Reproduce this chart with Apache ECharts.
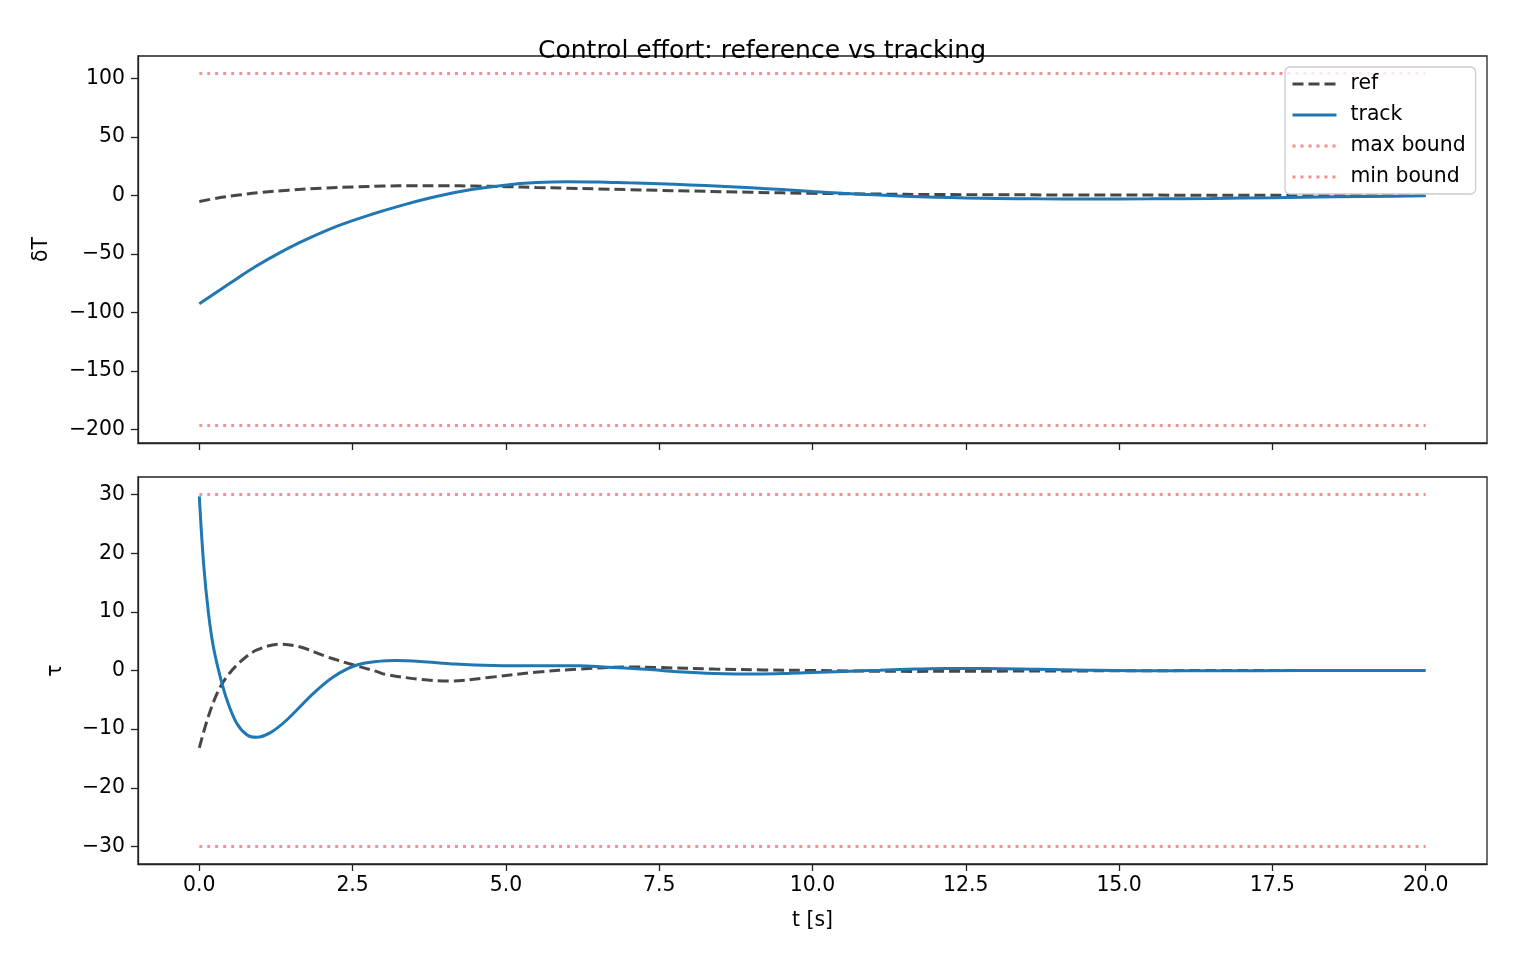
<!DOCTYPE html>
<html>
<head>
<meta charset="utf-8">
<script src="https://cdn.jsdelivr.net/npm/echarts@6/dist/echarts.min.js"></script>
<style>
html,body{margin:0;padding:0;background:#fff;}
#chart{width:1524px;height:965px;}
</style>
</head>
<body>
<div id="chart"></div>
<script>
// ---- data ----
var xTicks = [0, 2.5, 5, 7.5, 10, 12.5, 15, 17.5, 20];
var yTicksTop = [-200, -150, -100, -50, 0, 50, 100];
var yTicksBottom = [-30, -20, -10, 0, 10, 20, 30];

var tRefTop = [0, 0.3, 0.64, 1.0, 1.45, 2.0, 2.5, 3.0, 3.5, 4.0, 4.5, 5.0, 5.5, 6.0, 6.5, 7.0, 7.5, 8.0, 9.0, 10.0, 11.0, 12.0, 13.0, 14.0, 15.0, 16.0, 17.0, 18.0, 19.0, 20.0];
var refTop  = [-5.1, -2.2, 0.3, 2.5, 4.5, 6.2, 7.3, 8.0, 8.3, 8.3, 8.0, 7.5, 6.8, 6.2, 5.6, 5.0, 4.4, 3.8, 2.7, 1.8, 1.2, 0.8, 0.6, 0.45, 0.35, 0.25, 0.2, 0.15, 0.1, 0.1];

var tTrackTop = [0, 0.36, 0.6, 0.91, 1.3, 1.72, 2.27, 2.8, 3.36, 3.9, 4.44, 4.98, 5.5, 6.0, 6.5, 7.0, 7.5, 8.0, 8.5, 9.0, 9.5, 10.0, 10.5, 11.0, 11.5, 12.0, 12.5, 13.0, 13.7, 14.5, 15.5, 16.5, 17.5, 18.5, 19.5, 20.0];
var trackTop  = [-92.6, -80.0, -71.6, -61.0, -49.3, -38.2, -25.8, -16.3, -7.6, -0.5, 5, 8.8, 11, 11.8, 11.6, 10.8, 10, 9.0, 7.9, 6.6, 5.0, 3.3, 1.8, 0.5, -0.6, -1.5, -2.1, -2.5, -2.9, -3.0, -2.9, -2.5, -1.9, -1.2, -0.6, -0.3];

var tRefBottom = [0, 0.13, 0.29, 0.45, 0.67, 0.94, 1.32, 1.65, 2.08, 2.52, 2.9, 3.03, 3.63, 4.06, 4.71, 5.53, 6.2, 7.0, 7.5, 8.4, 9.2, 10.0, 11.6, 13.3, 15.0, 17.0, 20.0];
var refBottom  = [-13.2, -8.4, -3.9, -1.05, 1.5, 3.5, 4.5, 4.0, 2.35, 0.93, -0.2, -0.65, -1.55, -1.8, -1.2, -0.25, 0.25, 0.6, 0.5, 0.25, 0.1, 0, -0.15, -0.1, -0.05, 0, 0];

var tTrackBottom = [0, 0.07, 0.15, 0.23, 0.34, 0.45, 0.61, 0.78, 0.93, 1.16, 1.43, 1.86, 2.19, 2.57, 2.95, 3.2, 3.6, 4.17, 4.8, 5.5, 6.2, 6.6, 7.3, 7.8, 8.4, 9.1, 9.6, 10.0, 10.5, 11.1, 11.7, 12.2, 12.8, 13.7, 14.5, 15.5, 16.5, 18.0, 20.0];
var trackBottom  = [29.7, 18.2, 9.7, 4.0, -1.05, -5.0, -9.0, -11.0, -11.4, -10.6, -8.4, -3.9, -1.05, 0.93, 1.6, 1.7, 1.55, 1.1, 0.85, 0.8, 0.8, 0.6, 0.2, -0.2, -0.5, -0.6, -0.5, -0.35, -0.15, 0.05, 0.25, 0.35, 0.35, 0.2, 0.05, -0.05, -0.05, 0, 0];

var boundT = [0, 20];
var maxBoundTop = 104.2, minBoundTop = -196.6;
var maxBoundBottom = 30, minBoundBottom = -30;

// ---- build ----
function pairs(t, v) { return t.map(function (x, i) { return [x, v[i]]; }); }
function flat(t, c) { return t.map(function (x) { return [x, c]; }); }
function fmtY(v) { return String(v).replace('-', '\u2212'); }

var FONT = 'DejaVu Sans';
var FS = 20.4;
var refColor = '#474747', trackColor = '#1f77b4', boundColor = '#f49090';

function xAxis(gridIndex, showLabels) {
  return {
    type: 'value', gridIndex: gridIndex, min: -1, max: 21,
    splitLine: { show: false },
    axisLine: { onZero: false, lineStyle: { color: '#222', width: 1.3 } },
    axisTick: { show: true, length: 7, customValues: xTicks, lineStyle: { color: '#222', width: 1.3 } },
    axisLabel: { show: showLabels, customValues: xTicks, color: '#000', fontSize: FS, fontFamily: FONT, margin: 12,
      formatter: function (v) { return v.toFixed(1); } },
    name: showLabels ? 't [s]' : '', nameLocation: 'middle', nameGap: 47,
    nameTextStyle: { color: '#000', fontSize: FS, fontFamily: FONT }
  };
}
function yAxis(gridIndex, min, max, ticks, name, gap) {
  return {
    type: 'value', gridIndex: gridIndex, min: min, max: max,
    splitLine: { show: false },
    axisLine: { show: true, onZero: false, lineStyle: { color: '#222', width: 1.3 } },
    axisTick: { show: true, length: 7, customValues: ticks, lineStyle: { color: '#222', width: 1.3 } },
    axisLabel: { customValues: ticks, color: '#000', fontSize: FS, fontFamily: FONT, margin: 13, formatter: fmtY },
    name: name, nameLocation: 'middle', nameGap: gap, nameRotate: 90,
    nameTextStyle: { color: '#000', fontSize: FS, fontFamily: FONT }
  };
}
function line(name, xi, data, color, type, width) {
  return {
    name: name, type: 'line', xAxisIndex: xi, yAxisIndex: xi, data: data,
    symbol: 'none', showSymbol: false, smooth: 0.35, z: type === 'solid' || Array.isArray(type) && type[0] > 5 ? 2 : 1,
    lineStyle: { color: color, type: type, width: width, cap: 'butt' },
    itemStyle: { color: color }, animation: false
  };
}

var chart = echarts.init(document.getElementById('chart'), null, { renderer: 'canvas' });
chart.setOption({
  backgroundColor: '#fff',
  animation: false,
  title: { text: 'Control effort: reference vs tracking', left: 'center', top: 34,
    textStyle: { fontSize: 25, fontWeight: 'normal', color: '#000', fontFamily: FONT } },
  legend: {
    orient: 'vertical', left: 1285, top: 67, z: 10,
    data: ['ref', 'track', 'max bound', 'min bound'],
    itemWidth: 44, itemHeight: 12, itemGap: 11,
    padding: [7, 10, 7, 6],
    itemStyle: { opacity: 0 },
    lineStyle: { width: 3 },
    backgroundColor: 'rgba(255,255,255,0.8)', borderColor: '#cccccc', borderWidth: 1.3, borderRadius: 5,
    textStyle: { fontSize: FS, fontFamily: FONT, color: '#000', padding: [0, 0, 0, 9] }
  },
  grid: [
    { left: 138, right: 37, top: 56, height: 387, show: true, borderColor: '#222', borderWidth: 1.3, backgroundColor: 'transparent' },
    { left: 138, right: 37, top: 477, height: 387, show: true, borderColor: '#222', borderWidth: 1.3, backgroundColor: 'transparent' }
  ],
  xAxis: [xAxis(0, false), xAxis(1, true)],
  yAxis: [
    yAxis(0, -211.6, 119.2, yTicksTop, '\u03b4T', 86),
    yAxis(1, -33, 33, yTicksBottom, '\u03c4', 72)
  ],
  series: [
    line('ref', 0, pairs(tRefTop, refTop), refColor, [11, 5], 3),
    line('track', 0, pairs(tTrackTop, trackTop), trackColor, 'solid', 3),
    line('max bound', 0, flat(boundT, maxBoundTop), boundColor, [3, 5], 3),
    line('min bound', 0, flat(boundT, minBoundTop), boundColor, [3, 5], 3),
    line('ref', 1, pairs(tRefBottom, refBottom), refColor, [11, 5], 3),
    line('track', 1, pairs(tTrackBottom, trackBottom), trackColor, 'solid', 3),
    line('max bound', 1, flat(boundT, maxBoundBottom), boundColor, [3, 5], 3),
    line('min bound', 1, flat(boundT, minBoundBottom), boundColor, [3, 5], 3)
  ]
});
</script>
</body>
</html>
